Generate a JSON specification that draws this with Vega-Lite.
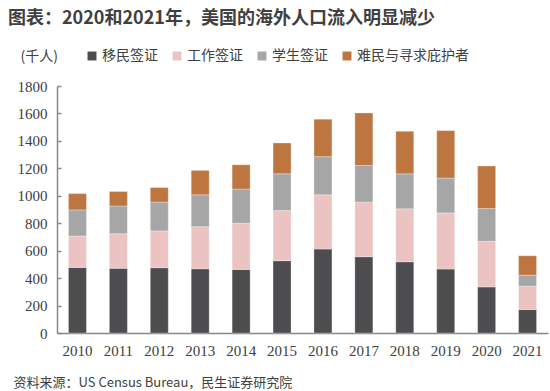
{
  "$schema": "https://vega.github.io/schema/vega-lite/v6.json",
  "autosize": {"type": "none"},
  "width": 491,
  "height": 247,
  "padding": {"left": 57, "top": 86, "right": 2, "bottom": 58},
  "background": "white",
  "title": {
    "text": "图表：2020和2021年，美国的海外人口流入明显减少",
    "anchor": "start",
    "frame": "group",
    "dx": -49,
    "dy": -21,
    "font": "Noto Sans CJK SC",
    "fontSize": 18,
    "fontWeight": "bold",
    "color": "#404040",
    "baseline": "top",
    "offset": 0
  },
  "config": {
    "view": {"stroke": null},
    "font": "Noto Sans CJK SC"
  },
  "data": {
    "values": [
      {"year": "2010", "type": "移民签证", "k": 1, "value": 478},
      {"year": "2010", "type": "工作签证", "k": 2, "value": 229},
      {"year": "2010", "type": "学生签证", "k": 3, "value": 190},
      {"year": "2010", "type": "难民与寻求庇护者", "k": 4, "value": 119},
      {"year": "2011", "type": "移民签证", "k": 1, "value": 471},
      {"year": "2011", "type": "工作签证", "k": 2, "value": 253},
      {"year": "2011", "type": "学生签证", "k": 3, "value": 202},
      {"year": "2011", "type": "难民与寻求庇护者", "k": 4, "value": 105},
      {"year": "2012", "type": "移民签证", "k": 1, "value": 476},
      {"year": "2012", "type": "工作签证", "k": 2, "value": 268},
      {"year": "2012", "type": "学生签证", "k": 3, "value": 210},
      {"year": "2012", "type": "难民与寻求庇护者", "k": 4, "value": 106},
      {"year": "2013", "type": "移民签证", "k": 1, "value": 468},
      {"year": "2013", "type": "工作签证", "k": 2, "value": 307},
      {"year": "2013", "type": "学生签证", "k": 3, "value": 232},
      {"year": "2013", "type": "难民与寻求庇护者", "k": 4, "value": 178},
      {"year": "2014", "type": "移民签证", "k": 1, "value": 463},
      {"year": "2014", "type": "工作签证", "k": 2, "value": 337},
      {"year": "2014", "type": "学生签证", "k": 3, "value": 249},
      {"year": "2014", "type": "难民与寻求庇护者", "k": 4, "value": 177},
      {"year": "2015", "type": "移民签证", "k": 1, "value": 527},
      {"year": "2015", "type": "工作签证", "k": 2, "value": 365},
      {"year": "2015", "type": "学生签证", "k": 3, "value": 268},
      {"year": "2015", "type": "难民与寻求庇护者", "k": 4, "value": 225},
      {"year": "2016", "type": "移民签证", "k": 1, "value": 612},
      {"year": "2016", "type": "工作签证", "k": 2, "value": 395},
      {"year": "2016", "type": "学生签证", "k": 3, "value": 278},
      {"year": "2016", "type": "难民与寻求庇护者", "k": 4, "value": 273},
      {"year": "2017", "type": "移民签证", "k": 1, "value": 556},
      {"year": "2017", "type": "工作签证", "k": 2, "value": 398},
      {"year": "2017", "type": "学生签证", "k": 3, "value": 267},
      {"year": "2017", "type": "难民与寻求庇护者", "k": 4, "value": 383},
      {"year": "2018", "type": "移民签证", "k": 1, "value": 519},
      {"year": "2018", "type": "工作签证", "k": 2, "value": 386},
      {"year": "2018", "type": "学生签证", "k": 3, "value": 255},
      {"year": "2018", "type": "难民与寻求庇护者", "k": 4, "value": 310},
      {"year": "2019", "type": "移民签证", "k": 1, "value": 466},
      {"year": "2019", "type": "工作签证", "k": 2, "value": 409},
      {"year": "2019", "type": "学生签证", "k": 3, "value": 254},
      {"year": "2019", "type": "难民与寻求庇护者", "k": 4, "value": 346},
      {"year": "2020", "type": "移民签证", "k": 1, "value": 336},
      {"year": "2020", "type": "工作签证", "k": 2, "value": 332},
      {"year": "2020", "type": "学生签证", "k": 3, "value": 239},
      {"year": "2020", "type": "难民与寻求庇护者", "k": 4, "value": 310},
      {"year": "2021", "type": "移民签证", "k": 1, "value": 171},
      {"year": "2021", "type": "工作签证", "k": 2, "value": 170},
      {"year": "2021", "type": "学生签证", "k": 3, "value": 81},
      {"year": "2021", "type": "难民与寻求庇护者", "k": 4, "value": 141}
    ]
  },
  "mark": {"type": "bar", "stroke": "white", "strokeWidth": 0.5, "strokeOpacity": 0.6},
  "encoding": {
    "x": {
      "field": "year",
      "type": "ordinal",
      "scale": {"paddingInner": 0.56, "paddingOuter": 0.28},
      "axis": {
        "title": "资料来源：US Census Bureau，民生证券研究院",
        "titleFont": "Noto Sans CJK SC",
        "titleFontSize": 13,
        "titleFontWeight": "normal",
        "titleColor": "#404040",
        "titleX": -44,
        "titleY": 49,
        "titleAlign": "left",
        "titleBaseline": "middle",
        "labelAngle": 0,
        "labelFont": "Liberation Serif",
        "labelFontSize": 15,
        "labelColor": "#404040",
        "labelPadding": 10,
        "ticks": false,
        "domainColor": "#888888",
        "domainWidth": 1.5
      }
    },
    "y": {
      "field": "value",
      "type": "quantitative",
      "aggregate": "sum",
      "stack": "zero",
      "scale": {"domain": [0, 1800], "nice": false},
      "axis": {
        "values": [0, 200, 400, 600, 800, 1000, 1200, 1400, 1600, 1800],
        "format": "d",
        "grid": false,
        "title": "(千人)",
        "titleFont": "Noto Sans CJK SC",
        "titleFontSize": 14,
        "titleFontWeight": "normal",
        "titleColor": "#404040",
        "titleAngle": 0,
        "titleX": -37,
        "titleY": -30,
        "titleAlign": "left",
        "titleBaseline": "middle",
        "labelFont": "Liberation Serif",
        "labelFontSize": 15,
        "labelColor": "#404040",
        "labelPadding": 14,
        "tickSize": -4,
        "tickColor": "#888888",
        "tickWidth": 1.5,
        "domainColor": "#888888",
        "domainWidth": 1.5
      }
    },
    "color": {
      "field": "type",
      "type": "nominal",
      "scale": {
        "domain": ["移民签证", "工作签证", "学生签证", "难民与寻求庇护者"],
        "range": ["#4d4d4f", "#ebc3c3", "#a6a6a6", "#be7641"]
      },
      "legend": {
        "title": null,
        "orient": "none",
        "direction": "horizontal",
        "legendX": 28,
        "legendY": -37,
        "symbolType": "square",
        "symbolSize": 80,
        "symbolStrokeWidth": 0,
        "labelFont": "Noto Sans CJK SC",
        "labelFontSize": 14,
        "labelColor": "#404040",
        "labelOffset": 3,
        "columnPadding": 12
      }
    },
    "order": {"field": "k", "type": "quantitative"}
  }
}
